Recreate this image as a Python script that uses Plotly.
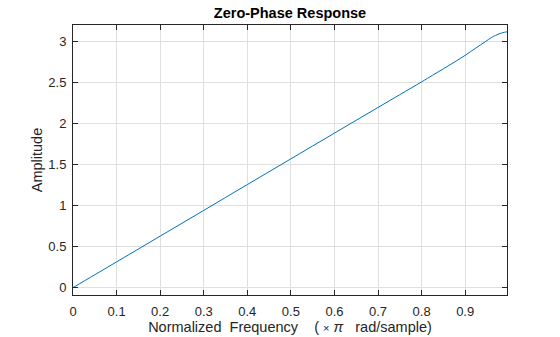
import plotly.graph_objects as go

# Zero-phase amplitude response of the differentiator
freq = [0.0, 0.05, 0.1, 0.15, 0.2, 0.25, 0.3, 0.35, 0.4, 0.45, 0.5, 0.55, 0.6,
        0.65, 0.7, 0.75, 0.8, 0.825, 0.85, 0.875, 0.9, 0.925, 0.946, 0.96,
        0.97, 0.98, 0.99, 0.996]
amp = [0.0, 0.157, 0.314, 0.471, 0.628, 0.785, 0.942, 1.100, 1.257, 1.414,
       1.571, 1.728, 1.885, 2.042, 2.198, 2.354, 2.510, 2.590, 2.670, 2.750,
       2.834, 2.925, 3.000, 3.050, 3.078, 3.100, 3.115, 3.120]

x_ticks = [0, 0.1, 0.2, 0.3, 0.4, 0.5, 0.6, 0.7, 0.8, 0.9]
x_tick_text = ["0", "0.1", "0.2", "0.3", "0.4", "0.5", "0.6", "0.7", "0.8", "0.9"]
y_ticks = [0, 0.5, 1, 1.5, 2, 2.5, 3]
y_tick_text = ["0", "0.5", "1", "1.5", "2", "2.5", "3"]

FONT = "Liberation Sans, Arial, sans-serif"
INK = "#262626"
GRID = "#dfdfdf"

fig = go.Figure()
fig.add_trace(go.Scatter(x=freq, y=amp, mode="lines",
                         line=dict(color="#0072BD", width=1),
                         line_shape="spline", hoverinfo="skip"))

axis_common = dict(
    showline=True, linecolor=INK, linewidth=1, mirror="ticks",
    ticks="inside", ticklen=5, tickcolor=INK, tickwidth=1,
    showgrid=True, gridcolor=GRID, gridwidth=1, zeroline=False,
    automargin=False,
    tickfont=dict(family=FONT, size=13, color=INK),
)

nb = "\u00a0"
xlabel = (f"Normalized{nb}{nb}Frequency{nb}{nb}{nb}{nb}({nb}<span style='font-size:11px'>×</span>"
          f"{nb}<i>π</i>{nb}{nb}{nb}rad/sample)")

fig.update_layout(
    width=560, height=337,
    margin=dict(l=73, r=53, t=25, b=42),
    paper_bgcolor="white", plot_bgcolor="white",
    showlegend=False,
    title=dict(text="<b>Zero-Phase Response</b>", x=(73 + 507) / 2 / 560, xanchor="center",
               y=1 - 13 / 337, yanchor="middle",
               font=dict(family=FONT, size=14.5, color="#000000")),
    xaxis=dict(range=[0, 0.996], tickvals=x_ticks, ticktext=x_tick_text,
               ticklabelstandoff=4,
               title=dict(text=xlabel, font=dict(family=FONT, size=14.5, color=INK), standoff=3),
               **axis_common),
    yaxis=dict(range=[-0.09, 3.204], tickvals=y_ticks, ticktext=y_tick_text,
               ticklabelstandoff=3,
               title=dict(text="Amplitude", font=dict(family=FONT, size=14.5, color=INK), standoff=2),
               **axis_common),
)

fig.write_html("out.html")
